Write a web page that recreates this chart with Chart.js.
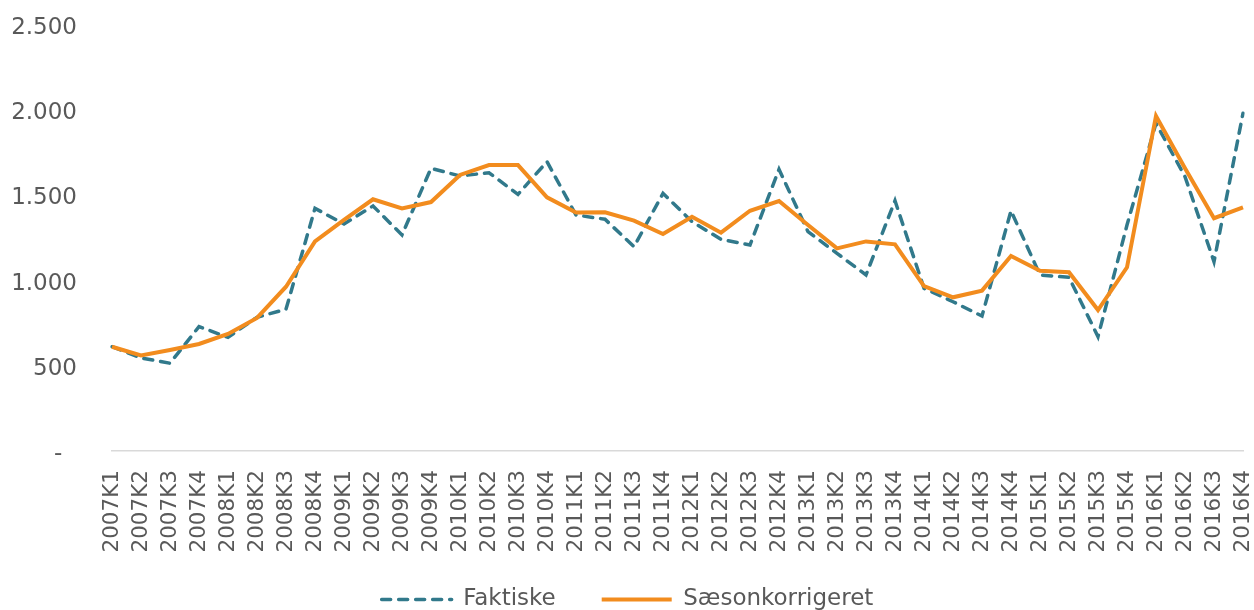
<!DOCTYPE html>
<html>
<head>
<meta charset="utf-8">
<script src="https://cdn.jsdelivr.net/npm/chart.js@4/dist/chart.umd.min.js"></script>
<style>
  html, body { margin: 0; padding: 0; background: #fff; }
  #wrap { width: 1254px; height: 610px; }
</style>
</head>
<body>
<div id="wrap"><canvas id="chart-kvartal"></canvas></div>
<script>
// Kvartaler 2007K1 - 2016K4
const years = ['2007', '2008', '2009', '2010', '2011', '2012', '2013', '2014', '2015', '2016'];
const quarters = ['K1', 'K2', 'K3', 'K4'];
const labels = [];
years.forEach(y => quarters.forEach(q => labels.push(y + q)));

const faktiske = [
  612, 546, 515, 730,
  667, 785, 832, 1424,
  1332, 1438, 1268, 1659,
  1614, 1633, 1506, 1698,
  1385, 1360, 1199, 1512,
  1346, 1242, 1209, 1653,
  1287, 1160, 1033, 1469,
  955, 876, 792, 1410,
  1033, 1019, 671, 1326,
  1923, 1610, 1111, 1982
];

const saesonkorrigeret = [
  612, 561, 593, 628,
  687, 781, 964, 1230,
  1356, 1477, 1424, 1461,
  1620, 1678, 1678, 1489,
  1399, 1401, 1352, 1273,
  1375, 1281, 1410, 1467,
  1326, 1189, 1230, 1213,
  968, 902, 941, 1144,
  1058, 1049, 827, 1078,
  1966, 1659, 1366, 1430
];

const yTicks = [0, 500, 1000, 1500, 2000, 2500];

const TEAL = '#31798B';
const ORANGE = '#F28C1E';
const GREY = '#595959';

Chart.defaults.font.family = "'DejaVu Sans', sans-serif";
Chart.defaults.color = GREY;

// dansk tusindtalsseparator, 0 vises som "-"
const fmt = (v) => v === 0 ? '-  ' : String(v).replace(/\B(?=(\d{3})+(?!\d))/g, '.');

// legend: brug linjens egen stil (stiplet / fuld) i stedet for punktets
const legendLabels = (chart) =>
  Chart.defaults.plugins.legend.labels.generateLabels(chart).map(item => {
    const ds = chart.data.datasets[item.datasetIndex];
    return Object.assign(item, {
      lineDash: ds.borderDash || [],
      lineWidth: ds.borderWidth,
      strokeStyle: ds.borderColor,
      lineCap: ds.borderCapStyle || 'butt'
    });
  });

const ctx = document.getElementById('chart-kvartal');
ctx.chart = new Chart(ctx, {
  type: 'line',
  data: {
    labels,
    datasets: [
      {
        label: 'Faktiske',
        data: faktiske,
        borderColor: TEAL,
        backgroundColor: TEAL,
        borderWidth: 3.5,
        borderDash: [9, 8],
        borderCapStyle: 'round',
        pointRadius: 0,
        tension: 0,
        order: 2
      },
      {
        label: 'Sæsonkorrigeret',
        data: saesonkorrigeret,
        borderColor: ORANGE,
        backgroundColor: ORANGE,
        borderWidth: 4,
        pointRadius: 0,
        tension: 0,
        order: 1
      }
    ]
  },
  options: {
    responsive: true,
    maintainAspectRatio: false,
    animation: false,
    layout: { padding: { left: 12, right: 11, top: 25, bottom: -11 } },
    plugins: {
      legend: {
        position: 'bottom',
        labels: {
          usePointStyle: true,
          pointStyle: 'line',
          pointStyleWidth: 70,
          boxHeight: 4,
          padding: 46,
          font: { size: 23 },
          color: GREY,
          generateLabels: legendLabels,
          sort: (a, b) => a.datasetIndex - b.datasetIndex
        }
      },
      tooltip: { enabled: false }
    },
    scales: {
      x: {
        grid: { display: false, drawTicks: false },
        border: { display: true, color: '#D9D9D9', width: 1.5 },
        ticks: {
          autoSkip: false,
          maxRotation: 90,
          minRotation: 90,
          padding: 19,
          font: { size: 21.5 },
          color: GREY
        },
        afterFit: (s) => {
          s.height = 91;
          s.paddingLeft = 0;
          s.paddingRight = 0;
          s._computeLabelArea = () => undefined; // lad lodrette etiketter gå ind under legenden
        }
      },
      y: {
        min: 0,
        max: 2500,
        afterBuildTicks: (scale) => { scale.ticks = yTicks.map(v => ({ value: v })); },
        grid: { display: false, drawTicks: false },
        border: { display: false },
        ticks: {
          padding: 35,
          labelOffset: 3,
          font: { size: 23 },
          color: GREY,
          callback: (v) => fmt(v)
        },
        afterFit: (s) => { s.width = 100; s.paddingTop = 0; s.paddingBottom = 0; }
      }
    }
  }
});
</script>
</body>
</html>
